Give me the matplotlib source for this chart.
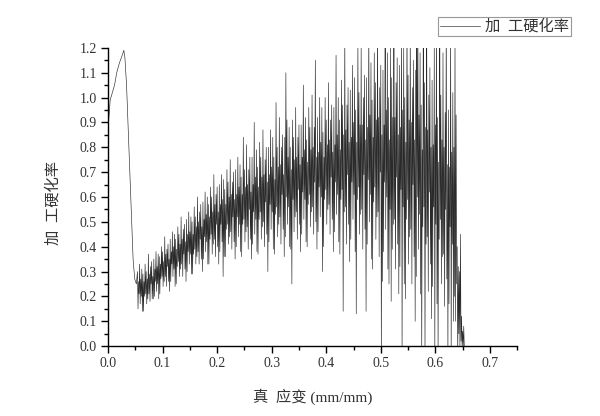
import numpy as np
import matplotlib
matplotlib.use("Agg")
import matplotlib.pyplot as plt
from matplotlib.ticker import MultipleLocator, FormatStrFormatter

plt.rcParams['font.family'] = ['Liberation Serif', 'Noto Sans CJK SC']

# smooth initial part (true strain, work-hardening rate)
x_start = [0.0, 0.001, 0.004, 0.008, 0.012, 0.016, 0.021, 0.026, 0.029,
           0.031, 0.034, 0.037, 0.040, 0.0435, 0.046, 0.049, 0.052]
y_start = [0.80, 0.90, 0.99, 1.02, 1.05, 1.10, 1.14, 1.17, 1.19,
           1.16, 1.05, 0.88, 0.70, 0.50, 0.35, 0.27, 0.25]

# noisy part, sampled every 0.001 strain starting at 0.054
y_noisy = [
    0.30, 0.15, 0.26, 0.21, 0.33, 0.17, 0.27, 0.20, 0.31, 0.14,
    0.29, 0.14, 0.26, 0.20, 0.33, 0.21, 0.30, 0.17, 0.27, 0.19,
    0.37, 0.21, 0.29, 0.18, 0.32, 0.25, 0.34, 0.19, 0.28, 0.19,
    0.35, 0.20, 0.31, 0.26, 0.38, 0.22, 0.32, 0.25, 0.37, 0.19,
    0.36, 0.21, 0.33, 0.27, 0.40, 0.28, 0.38, 0.24, 0.34, 0.26,
    0.44, 0.28, 0.37, 0.24, 0.39, 0.32, 0.41, 0.26, 0.35, 0.22,
    0.43, 0.26, 0.38, 0.33, 0.46, 0.28, 0.40, 0.31, 0.45, 0.24,
    0.43, 0.25, 0.39, 0.32, 0.48, 0.34, 0.45, 0.28, 0.41, 0.31,
    0.52, 0.33, 0.43, 0.28, 0.47, 0.37, 0.49, 0.31, 0.42, 0.26,
    0.51, 0.30, 0.45, 0.38, 0.54, 0.33, 0.46, 0.37, 0.52, 0.29,
    0.50, 0.29, 0.45, 0.37, 0.56, 0.39, 0.52, 0.33, 0.48, 0.36,
    0.60, 0.38, 0.50, 0.33, 0.54, 0.43, 0.57, 0.35, 0.48, 0.30,
    0.58, 0.35, 0.51, 0.44, 0.62, 0.38, 0.53, 0.42, 0.60, 0.33,
    0.57, 0.33, 0.52, 0.43, 0.64, 0.45, 0.60, 0.37, 0.54, 0.41,
    0.69, 0.43, 0.57, 0.36, 0.61, 0.49, 0.64, 0.40, 0.54, 0.33,
    0.65, 0.38, 0.57, 0.49, 0.69, 0.42, 0.59, 0.28, 0.67, 0.36,
    0.63, 0.36, 0.57, 0.47, 0.71, 0.49, 0.66, 0.41, 0.60, 0.44,
    0.75, 0.46, 0.61, 0.39, 0.66, 0.52, 0.70, 0.42, 0.59, 0.35,
    0.71, 0.40, 0.61, 0.52, 0.76, 0.44, 0.64, 0.49, 0.73, 0.38,
    0.68, 0.36, 0.61, 0.49, 0.84, 0.51, 0.71, 0.42, 0.64, 0.46,
    0.81, 0.48, 0.65, 0.39, 0.71, 0.55, 0.76, 0.43, 0.62, 0.35,
    0.76, 0.41, 0.65, 0.54, 0.90, 0.45, 0.68, 0.51, 0.79, 0.38,
    0.72, 0.37, 0.64, 0.51, 0.82, 0.54, 0.76, 0.43, 0.68, 0.48,
    0.87, 0.50, 0.69, 0.40, 0.75, 0.58, 0.80, 0.45, 0.66, 0.30,
    0.80, 0.42, 0.69, 0.57, 0.87, 0.47, 0.72, 0.54, 0.84, 0.39,
    0.76, 0.37, 0.67, 0.53, 0.98, 0.56, 0.80, 0.44, 0.72, 0.49,
    0.92, 0.52, 0.73, 0.41, 0.80, 0.61, 0.85, 0.47, 0.69, 0.36,
    0.84, 0.44, 1.10, 0.60, 0.91, 0.49, 0.76, 0.56, 0.88, 0.40,
    0.80, 0.39, 0.71, 0.25, 0.91, 0.59, 0.84, 0.46, 0.75, 0.52,
    0.96, 0.54, 0.76, 0.43, 0.84, 0.63, 0.89, 0.49, 0.73, 0.38,
    0.89, 0.45, 0.76, 0.62, 1.05, 0.51, 0.79, 0.59, 0.92, 0.42,
    0.83, 0.40, 0.74, 0.57, 0.96, 0.61, 0.88, 0.48, 0.79, 0.54,
    1.01, 0.56, 0.80, 0.45, 0.88, 0.66, 1.15, 0.50, 0.76, 0.39,
    0.92, 0.46, 0.78, 0.64, 1.00, 0.52, 0.82, 0.60, 0.96, 0.30,
    0.86, 0.40, 0.76, 0.59, 1.00, 0.63, 0.91, 0.49, 0.81, 0.55,
    1.06, 0.57, 0.83, 0.45, 0.91, 0.68, 0.97, 0.51, 0.78, 0.38,
    0.96, 0.46, 0.81, 0.66, 1.17, 0.53, 0.85, 0.61, 1.00, 0.42,
    0.91, 0.37, 0.79, 0.59, 1.07, 0.63, 0.97, 0.14, 0.85, 0.54,
    1.25, 0.56, 0.87, 0.41, 0.97, 0.69, 1.04, 0.49, 0.82, 0.34,
    1.03, 0.43, 0.84, 0.66, 1.13, 0.51, 0.90, 0.61, 1.08, 0.38,
    0.95, 0.13, 0.82, 0.59, 1.22, 0.64, 1.02, 0.45, 0.89, 0.53,
    1.20, 0.55, 0.89, 0.39, 1.00, 0.69, 1.09, 0.47, 0.83, 0.14,
    1.08, 0.41, 0.88, 0.67, 1.30, 0.50, 0.93, 0.61, 1.14, 0.35,
    0.99, 0.31, 0.84, 0.58, 1.18, 0.64, 1.06, 0.43, 0.91, 0.52,
    1.35, 0.54, 0.92, 0.36, 1.04, 0.70, 1.13, -0.05, 0.85, 0.26,
    1.11, 0.38, 0.89, 0.66, 1.40, 0.47, 0.95, 0.60, 1.18, 0.31,
    1.00, 0.25, 0.83, 0.55, 1.21, 0.18, 1.08, 0.39, 0.92, 0.49,
    1.45, 0.51, 0.92, 0.31, 1.06, 0.68, 1.16, 0.41, 0.85, 0.21,
    1.13, 0.32, 0.88, 0.63, 1.27, -0.05, 0.95, 0.56, 1.20, 0.25,
    1.00, 0.19, 0.82, 0.51, 1.35, 0.59, 1.09, 0.33, 0.91, 0.44,
    1.30, 0.47, 0.90, 0.25, 1.04, 0.65, 1.15, 0.36, 0.83, 0.10,
    1.11, 0.28, 1.40, 0.60, 1.25, 0.39, 0.93, 0.53, 1.18, 0.21,
    0.97, -0.05, 0.79, 0.48, 1.50, 0.56, 1.06, -0.05, 0.88, 0.41,
    1.40, 0.44, 0.87, 0.22, 1.01, 0.62, 1.12, 0.33, 0.80, 0.11,
    1.07, 0.24, 0.81, 0.56, 1.21, -0.05, 0.89, 0.49, 1.35, 0.17,
    0.92, -0.05, 0.74, 0.43, 1.40, 0.51, 1.01, 0.25, 0.83, 0.36,
    1.18, 0.37, 0.80, 0.16, 0.94, 0.55, 1.35, 0.27, 0.73, -0.05,
    0.95, 0.17, 0.72, 0.48, 1.30, -0.05, 0.78, 0.41, 1.02, 0.10,
    0.80, 0.20, 1.25, 0.10, 0.93, 0.25, 0.40, -0.05, 0.32, 0.05,
    0.30, 0.00, 0.45, 0.02, 0.12, 0.00, 0.06, 0.00, 0.08, 0.00,
]
x_noisy = 0.054 + 0.001 * np.arange(len(y_noisy))

x = np.concatenate([x_start, x_noisy])
y = np.concatenate([y_start, y_noisy])

fig = plt.figure(figsize=(6.0, 4.16), dpi=100)
ax = fig.add_axes([0.18, 0.168, 0.682, 0.717])
ax.plot(x, y, color='#2a2a2a', lw=0.45, label='加  工硬化率')

ax.set_xlim(0, 0.75)
ax.set_ylim(0, 1.2)
ax.xaxis.set_major_locator(MultipleLocator(0.1))
ax.xaxis.set_minor_locator(MultipleLocator(0.05))
ax.yaxis.set_major_locator(MultipleLocator(0.1))
ax.yaxis.set_minor_locator(MultipleLocator(0.05))
ax.xaxis.set_major_formatter(FormatStrFormatter('%.1f'))
ax.yaxis.set_major_formatter(FormatStrFormatter('%.1f'))
for s in ['top', 'right']:
    ax.spines[s].set_visible(False)
ax.spines['left'].set_linewidth(1.0)
ax.spines['bottom'].set_linewidth(1.0)
ax.tick_params(which='major', direction='out', length=5, width=1,
               labelsize=10, labelcolor='#333333', pad=3)
ax.tick_params(which='minor', direction='out', length=3, width=1)

ax.set_xlabel('真  应变 (mm/mm)', fontsize=11, color='#333333')
ax.xaxis.set_label_coords(0.5, -0.141)
ax.set_ylabel('加  工硬化率', fontsize=11, color='#333333')
ax.yaxis.set_label_coords(-0.115, 0.48)

leg = fig.legend(loc='upper right', bbox_to_anchor=(571/600, 1 - 17/416),
                 fancybox=False, edgecolor='#999999', framealpha=1,
                 fontsize=11, handlelength=2.6, borderpad=0.15,
                 handletextpad=0.3, borderaxespad=0)
leg.get_frame().set_linewidth(0.8)
for t in leg.get_texts():
    t.set_color('#333333')

fig.savefig('out.png', dpi=100)
